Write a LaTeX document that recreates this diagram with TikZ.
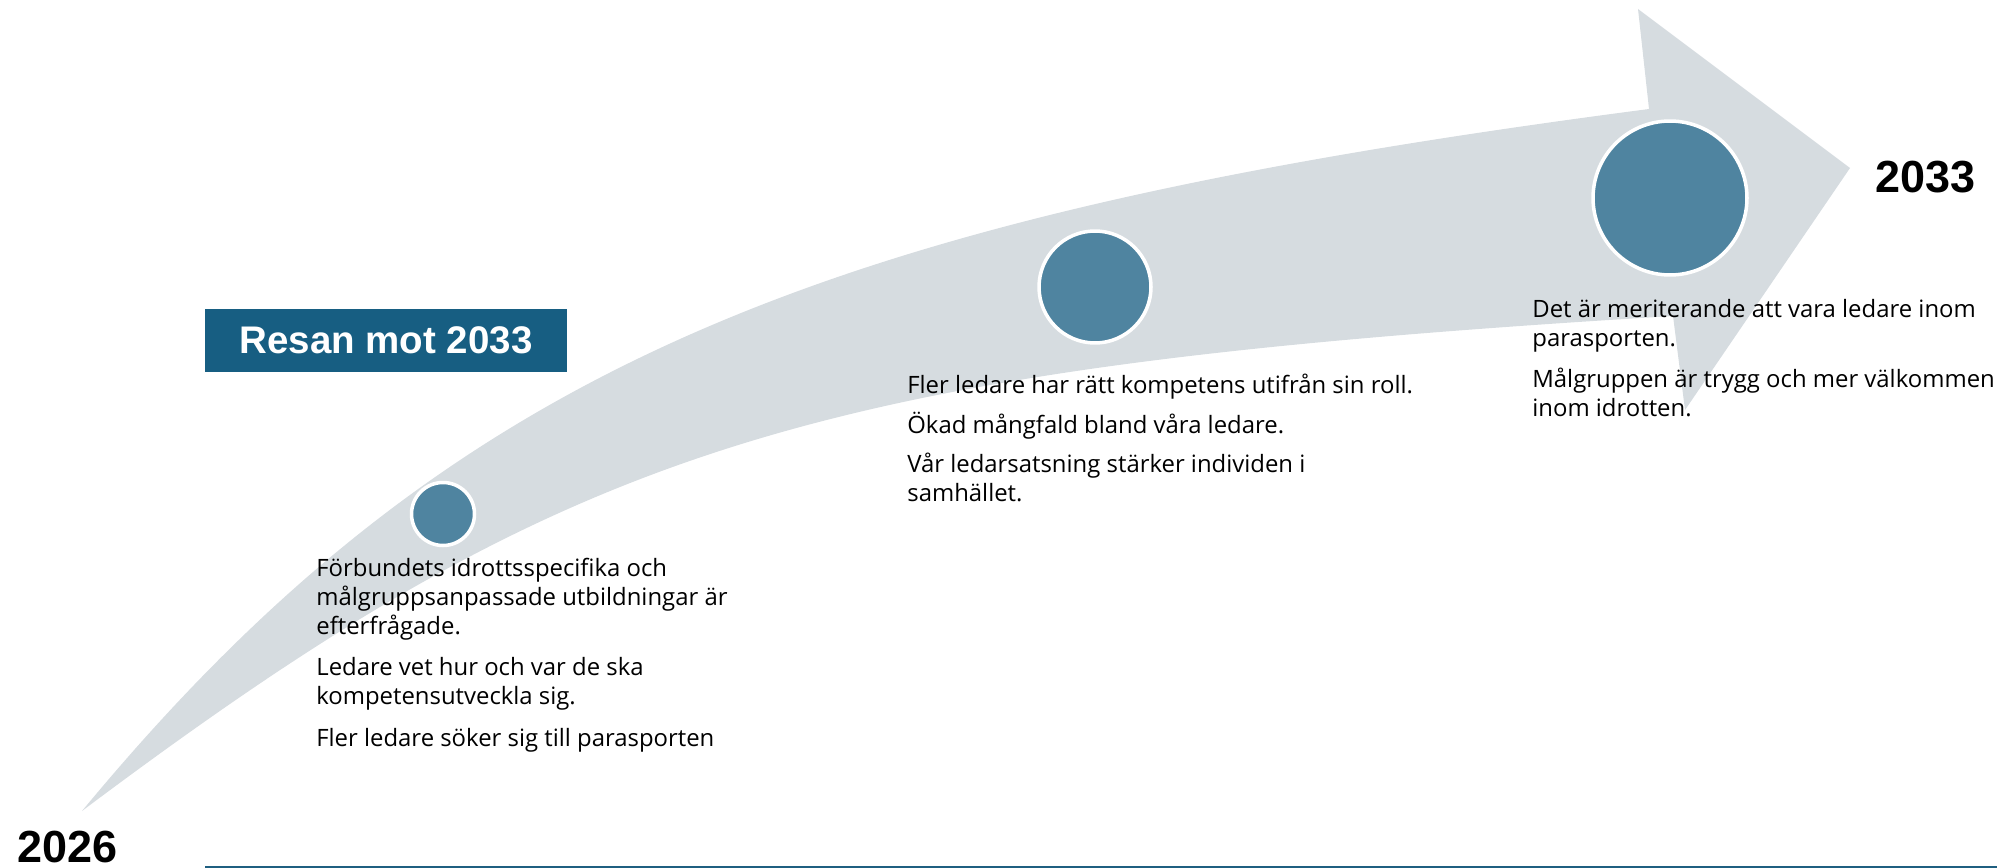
\documentclass[tikz,border=0pt]{standalone}
\usepackage{fontspec}
\setmainfont{Open Sans}
\newfontfamily\yearfont{Liberation Sans}
\usepackage{xcolor}
\usetikzlibrary{positioning}

\definecolor{arrowgrey}{RGB}{214,220,224}
\definecolor{dotblue}{RGB}{79,132,160}
\definecolor{boxblue}{RGB}{23,94,130}
\definecolor{lineblue}{RGB}{31,95,128}

\begin{document}
\begin{tikzpicture}[x=0.02cm, y=-0.02cm,
    milestone/.style={circle, fill=dotblue, draw=white, line width=2pt, inner sep=0pt},
    goal/.style={anchor=base west, inner sep=0pt, align=left, font=\fontsize{13.6}{16.4}\selectfont},
    yearlabel/.style={anchor=base west, inner sep=0pt, font=\yearfont\bfseries\fontsize{25.6}{30}\selectfont}]
    \useasboundingbox (0,0) rectangle (2001,868);

    % Curved arrow
    \fill[arrowgrey] (82,811) .. controls (451,365) and (820,217) .. (1649,109)
        -- (1638,9) -- (1850,168) -- (1685,410) -- (1673,316)
        .. controls (813,368) and (574,442) .. (82,811) -- cycle;

    % Title box
    \node[fill=boxblue, text=white, minimum width=7.24cm, minimum height=1.26cm,
        font=\yearfont\bfseries\fontsize{21.9}{26}\selectfont] (title) at (386,340.5) {Resan mot 2033};

    % Milestones
    \node[milestone, minimum size=1.26cm] (dotStart) at (443,514) {};
    \node[milestone, minimum size=2.24cm] (dotMid) at (1095,287) {};
    \node[milestone, minimum size=3.08cm] (dotEnd) at (1670,198) {};

    % Goals near start (anchored on the last line)
    \node[goal] (startA) at (316,634.5) {Förbundets idrottsspecifika och\\målgruppsanpassade utbildningar är\\efterfrågade.};
    \node[goal] (startB) at (316,704.75) {Ledare vet hur och var de ska\\kompetensutveckla sig.};
    \node[goal] (startC) at (316,746) {Fler ledare söker sig till parasporten};

    % Goals halfway
    \node[goal] (midA) at (907,393) {Fler ledare har rätt kompetens utifrån sin roll.};
    \node[goal] (midB) at (907,433) {Ökad mångfald bland våra ledare.};
    \node[goal] (midC) at (907,501.75) {Vår ledarsatsning stärker individen i\\samhället.};

    % Goals at the end
    \node[goal] (endA) at (1532,346.75) {Det är meriterande att vara ledare inom\\parasporten.};
    \node[goal] (endB) at (1532,416.75) {Målgruppen är trygg och mer välkommen\\inom idrotten.};

    % Years
    \node[yearlabel] (yearStart) at (17,862) {2026};
    \node[yearlabel] (yearEnd) at (1875,193) {2033};

    % Base line
    \draw[lineblue, line width=1pt] (205,867) -- (1997,867);
\end{tikzpicture}
\end{document}
